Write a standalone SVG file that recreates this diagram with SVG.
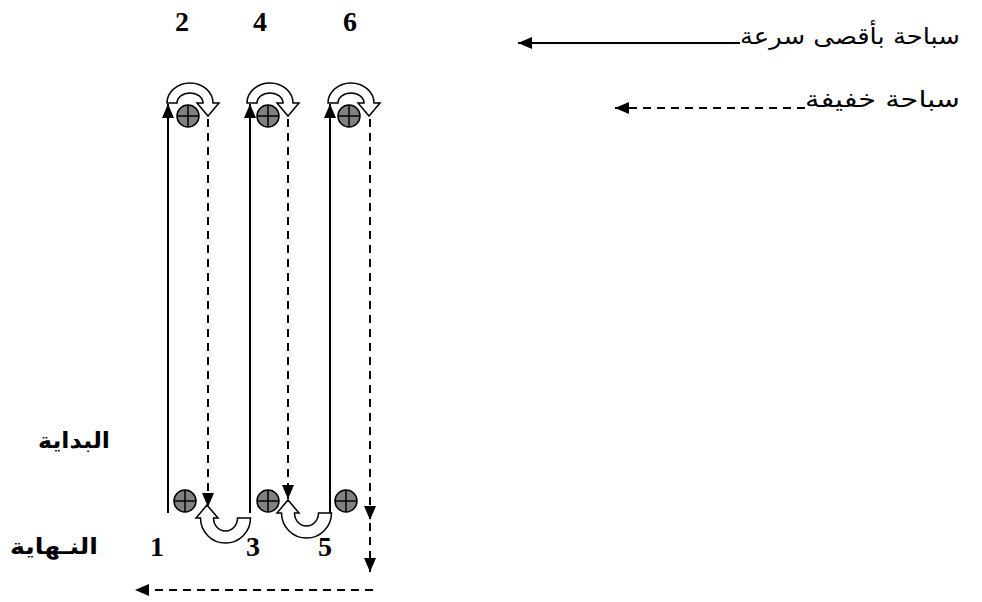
<svg xmlns="http://www.w3.org/2000/svg" width="982" height="602" viewBox="0 0 982 602">
  <style>
    .num { font-family: "Liberation Serif", "Times New Roman", serif; font-weight: bold; font-size: 28px; fill: #000; text-anchor: middle; }
    .lbl { font-family: "DejaVu Sans", "Liberation Sans", sans-serif; font-weight: bold; font-size: 22px; fill: #000; text-anchor: end; }
    .leg { font-family: "DejaVu Sans", "Liberation Sans", sans-serif; font-size: 23px; fill: #000; text-anchor: end; }
    .solid { stroke: #000; stroke-width: 2; fill: none; }
    .dash { stroke: #000; stroke-width: 2; fill: none; stroke-dasharray: 8 6; }
    .turn { fill: #fff; stroke: #000; stroke-width: 1.5; stroke-linejoin: miter; }
    .cone { fill: #808080; stroke: #000; stroke-width: 1.5; }
    .cross { stroke: #000; stroke-width: 1.5; }
  </style>
  <defs>
    <marker id="head" viewBox="0 0 14 12" refX="14" refY="6" markerWidth="14" markerHeight="12" markerUnits="userSpaceOnUse" orient="auto">
      <path d="M0,0 L14,6 L0,12 Z" fill="#000"/>
    </marker>
    <g id="marker-cone">
      <circle class="cone" cx="0" cy="0" r="11"/>
      <line class="cross" x1="-11" y1="0" x2="11" y2="0"/>
      <line class="cross" x1="0" y1="-11" x2="0" y2="11"/>
    </g>
  </defs>

  <!-- lap numbers -->
  <g id="lap-numbers">
    <text class="num" x="182" y="31">2</text>
    <text class="num" x="260" y="31">4</text>
    <text class="num" x="350" y="31">6</text>
    <text class="num" x="157" y="556">1</text>
    <text class="num" x="253" y="556">3</text>
    <text class="num" x="325" y="556">5</text>
  </g>

  <!-- start / finish labels -->
  <g id="label-start"><text class="lbl" x="110" y="448" textLength="72" lengthAdjust="spacingAndGlyphs">البداية</text></g>
  <g id="label-finish"><text class="lbl" x="98" y="554" textLength="88" lengthAdjust="spacingAndGlyphs">النـهاية</text></g>

  <!-- legend -->
  <g id="legend-fast">
    <text class="leg" x="960" y="44" textLength="220" lengthAdjust="spacingAndGlyphs">سباحة بأقصى سرعة</text>
    <line class="solid" x1="740" y1="43" x2="518" y2="43" marker-end="url(#head)"/>
  </g>
  <g id="legend-easy">
    <text class="leg" x="960" y="107" textLength="155" lengthAdjust="spacingAndGlyphs">سباحة خفيفة</text>
    <line class="dash" x1="805" y1="108" x2="615" y2="108" marker-end="url(#head)"/>
  </g>

  <!-- turn arrows at the far end -->
  <g id="turn-top-1"><path class="turn" d="M167,103 A23,20 0 0 1 213,103 L219,103 L208,116 L197,103 L203,103 A13,10 0 0 0 177,103 Z"/></g>
  <g id="turn-top-2"><path class="turn" d="M247,103 A23,20 0 0 1 293,103 L299,103 L288,116 L277,103 L283,103 A13,10 0 0 0 257,103 Z"/></g>
  <g id="turn-top-3"><path class="turn" d="M328,103 A23,20 0 0 1 374,103 L380,103 L369,116 L358,103 L364,103 A13,10 0 0 0 338,103 Z"/></g>

  <!-- turn arrows at the near end -->
  <g id="turn-bottom-1"><path class="turn" d="M200.5,518 L196,518 L207,505 L218,518 L213.5,518 A12,13 0 0 0 237.5,518 L250.5,518 A25,25 0 0 1 200.5,518 Z"/></g>
  <g id="turn-bottom-2"><path class="turn" d="M281.5,513 L277,513 L288,500 L299,513 L294.5,513 A12,13 0 0 0 318.5,513 L331.5,513 A25,25 0 0 1 281.5,513 Z"/></g>

  <!-- swim paths -->
  <g id="connectors">
    <line class="solid" x1="168" y1="513" x2="168" y2="104" marker-end="url(#head)"/>
    <line class="solid" x1="250" y1="513" x2="250" y2="104" marker-end="url(#head)"/>
    <line class="solid" x1="330" y1="513" x2="330" y2="104" marker-end="url(#head)"/>
    <line class="dash" x1="208" y1="119" x2="208" y2="507" marker-end="url(#head)"/>
    <line class="dash" x1="288" y1="119" x2="288" y2="499" marker-end="url(#head)"/>
    <line class="dash" x1="370" y1="119" x2="370" y2="520" marker-end="url(#head)"/>
    <line class="dash" x1="370" y1="523" x2="370" y2="572" marker-end="url(#head)"/>
    <line class="dash" x1="373" y1="590" x2="135" y2="590" marker-end="url(#head)"/>
  </g>

  <!-- lane markers -->
  <g id="cone-top-1"><use href="#marker-cone" x="188" y="116"/></g>
  <g id="cone-top-2"><use href="#marker-cone" x="268" y="116"/></g>
  <g id="cone-top-3"><use href="#marker-cone" x="349" y="116"/></g>
  <g id="cone-bottom-1"><use href="#marker-cone" x="185" y="501"/></g>
  <g id="cone-bottom-2"><use href="#marker-cone" x="268" y="501"/></g>
  <g id="cone-bottom-3"><use href="#marker-cone" x="346" y="501"/></g>
</svg>
